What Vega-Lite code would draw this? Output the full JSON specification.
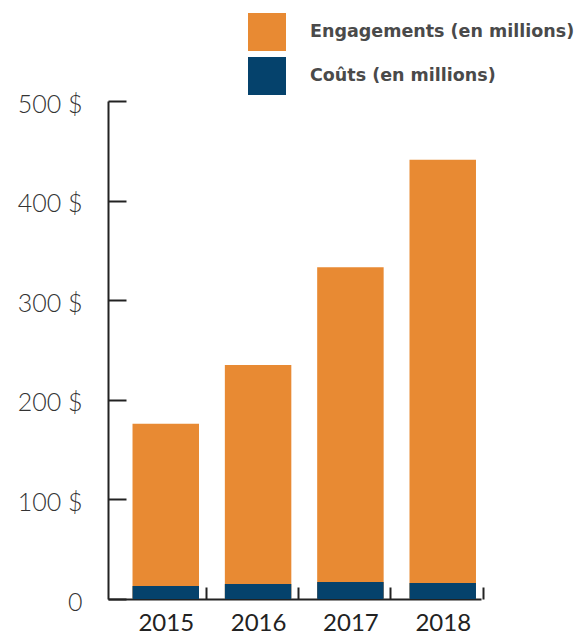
{
  "$schema": "https://vega.github.io/schema/vega-lite/v6.json",
  "autosize": "none",
  "width": 373,
  "height": 498,
  "padding": {"left": 108, "top": 101, "right": 101, "bottom": 36},
  "config": {"view": {"stroke": null}, "font": "Lato"},
  "data": {
    "values": [
      {"annee": "2015", "serie": "Engagements (en millions)", "valeur": 176},
      {"annee": "2016", "serie": "Engagements (en millions)", "valeur": 235},
      {"annee": "2017", "serie": "Engagements (en millions)", "valeur": 333},
      {"annee": "2018", "serie": "Engagements (en millions)", "valeur": 441},
      {"annee": "2015", "serie": "Coûts (en millions)", "valeur": 13},
      {"annee": "2016", "serie": "Coûts (en millions)", "valeur": 15},
      {"annee": "2017", "serie": "Coûts (en millions)", "valeur": 17},
      {"annee": "2018", "serie": "Coûts (en millions)", "valeur": 16}
    ]
  },
  "mark": {"type": "bar"},
  "encoding": {
    "x": {
      "field": "annee",
      "type": "nominal",
      "scale": {"paddingInner": 0.28, "paddingOuter": 0.16, "align": 0.83},
      "axis": {
        "title": null,
        "labelAngle": 0,
        "labelFont": "Lato",
        "labelFontSize": 24,
        "labelColor": "#222222",
        "labelPadding": 24,
        "domainColor": "#222222",
        "domainWidth": 2,
        "tickColor": "#222222",
        "tickWidth": 2,
        "tickSize": -12,
        "tickOffset": 40,
        "labelOffset": -40
      }
    },
    "y": {
      "field": "valeur",
      "type": "quantitative",
      "stack": null,
      "scale": {"domain": [0, 500], "nice": false},
      "axis": {
        "title": null,
        "values": [0, 100, 200, 300, 400, 500],
        "labelExpr": "datum.value == 0 ? '0' : datum.value + ' $'",
        "labelFont": "Lato",
        "labelFontSize": 25,
        "labelFontWeight": 300,
        "labelColor": "#333333",
        "labelPadding": 44,
        "labelOffset": 3,
        "domainColor": "#222222",
        "domainWidth": 2,
        "tickColor": "#222222",
        "tickWidth": 2,
        "tickSize": -18,
        "grid": false
      }
    },
    "color": {
      "field": "serie",
      "type": "nominal",
      "scale": {
        "domain": ["Engagements (en millions)", "Coûts (en millions)"],
        "range": ["#E88A33", "#05426C"]
      },
      "legend": {
        "title": null,
        "orient": "none",
        "legendX": 140,
        "legendY": -88,
        "symbolType": "square",
        "symbolSize": 1444,
        "symbolStrokeWidth": 0,
        "symbolOpacity": 1,
        "labelFont": "DejaVu Sans",
        "labelFontSize": 17.5,
        "labelFontWeight": "bold",
        "labelColor": "#4a4a4a",
        "labelOffset": 24,
        "labelLimit": 400,
        "rowPadding": 6
      }
    }
  }
}
